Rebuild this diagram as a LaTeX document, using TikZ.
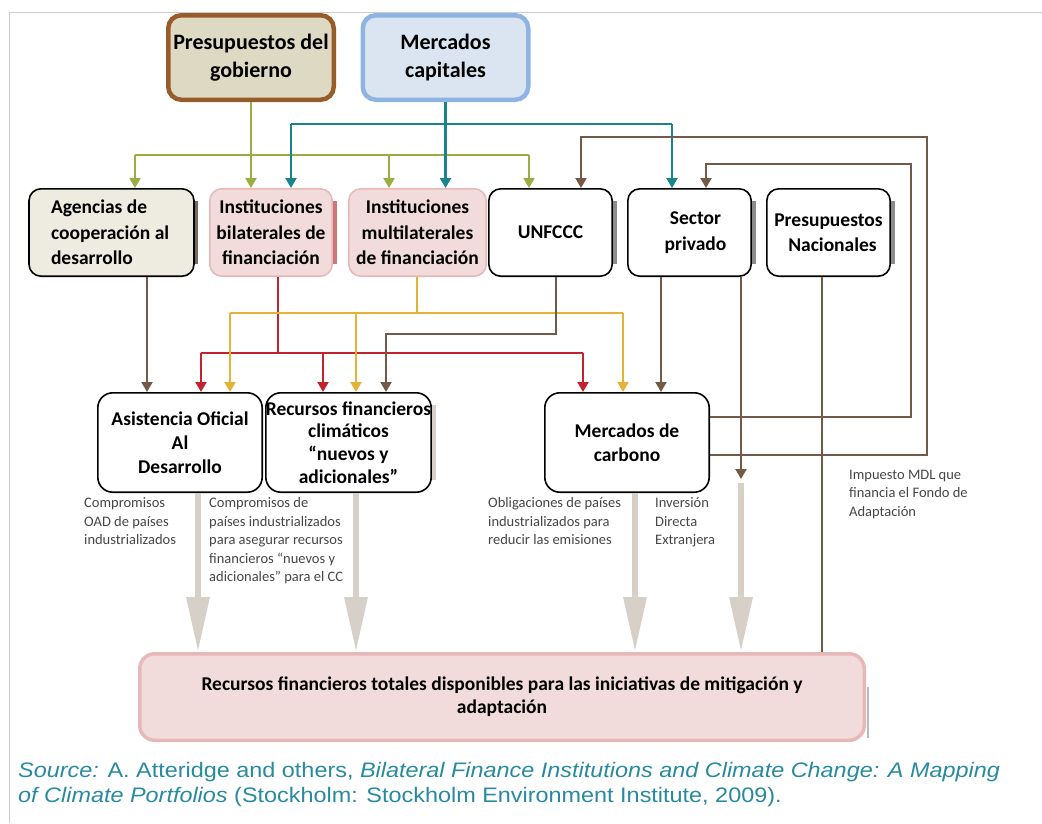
\documentclass[tikz,border=0pt]{standalone}
\usepackage{fontspec}
\setmainfont{Carlito}
\newfontfamily\srcfont[FakeStretch=1.115]{Liberation Sans}
\usetikzlibrary{arrows.meta}
\definecolor{gobfill}{RGB}{221,217,195}
\definecolor{gobdraw}{RGB}{152,92,42}
\definecolor{capfill}{RGB}{219,229,241}
\definecolor{capdraw}{RGB}{141,180,226}
\definecolor{agfill}{RGB}{238,236,225}
\definecolor{pinkfill}{RGB}{242,220,219}
\definecolor{pinkdraw}{RGB}{230,185,184}
\definecolor{cgreen}{RGB}{155,172,66}
\definecolor{cteal}{RGB}{25,132,140}
\definecolor{cbrown}{RGB}{115,90,72}
\definecolor{cred}{RGB}{195,35,45}
\definecolor{cgold}{RGB}{228,178,55}
\definecolor{fatgray}{RGB}{215,208,200}
\definecolor{notegray}{RGB}{70,70,70}
\definecolor{srcteal}{RGB}{40,138,158}
\definecolor{framegray}{RGB}{205,205,205}
\definecolor{shadegray}{RGB}{140,140,140}
\definecolor{shadebrown}{RGB}{120,105,90}
\definecolor{shadered}{RGB}{205,120,120}
\newcommand\rshadow[2]{\fill[#2] ([xshift=-0.3pt,yshift=-13pt]#1.north east) rectangle ([xshift=3.5pt,yshift=13pt]#1.south east);}
\begin{document}
\begin{tikzpicture}[x=1pt,y=-1pt,
  topbox/.style={rounded corners=13pt, line width=4.5pt, inner sep=0pt, align=flush center,
    minimum width=165.5pt, minimum height=84.5pt, font=\bfseries\fontsize{22}{27.5}\selectfont},
  midbox/.style={draw=black, line width=1.6pt, rounded corners=12pt, inner sep=0pt, align=flush center,
    minimum height=87.4pt, font=\bfseries\fontsize{19.5}{25.5}\selectfont},
  pinkbox/.style={midbox, draw=pinkdraw, fill=pinkfill},
  lowbox/.style={draw=black, line width=1.6pt, rounded corners=15pt, inner sep=0pt, align=flush center,
    minimum width=164.4pt, minimum height=99.4pt, font=\bfseries\fontsize{19.5}{24}\selectfont},
  wire/.style={line width=2.2pt},
  arrowend/.style={-{Triangle[width=11pt,length=10pt]}},
  fat/.style={draw=fatgray, line width=6.5pt, -{Triangle[width=22pt,length=55pt]}},
  smalltext/.style={anchor=north west, inner sep=0pt, align=flush left, text=notegray,
    font=\fontsize{14.5}{18.5}\selectfont}]
\useasboundingbox (0,0) rectangle (1042,823);
% frame
\draw[framegray, line width=1pt] (9,823) -- (9,12) -- (1042,12);

% top boxes
\node[topbox, draw=gobdraw, fill=gobfill] (gob) at (251,57.5) {Presupuestos del\\gobierno};
\node[topbox, draw=capdraw, fill=capfill] (cap) at (445.5,57.5) {Mercados\\capitales};

% middle row
\node[midbox, fill=agfill, align=flush left, inner xsep=22pt, text width=121pt] (agencias) at (111.5,232.5)
  {Agencias de\\cooperación al\\desarrollo};
\node[pinkbox, minimum width=122.4pt] (bilat) at (271,232.5) {Instituciones\\bilaterales de\\financiación};
\node[pinkbox, minimum width=137.4pt] (multi) at (417.5,232.5) {Instituciones\\multilaterales\\de financiación};
\node[midbox, fill=white, minimum width=123.4pt] (unfccc) at (550.5,232.5) {UNFCCC};
\node[midbox, fill=white, minimum width=123.4pt] (sector) at (689.5,232.5) {\hspace*{12pt}Sector\\\hspace*{12pt}privado};
\node[midbox, fill=white, minimum width=123.4pt] (presnac) at (828.5,232.5) {Presupuestos\\\hspace*{8pt}Nacionales};
\rshadow{agencias}{shadebrown}
\rshadow{bilat}{shadered}
\rshadow{unfccc}{shadegray}
\rshadow{sector}{shadegray}
\rshadow{presnac}{shadegray}

% lower row
\node[lowbox, fill=white] (asist) at (180,442.5) {Asistencia Oficial\\Al\\Desarrollo};
\node[lowbox, fill=white, minimum width=165.4pt, font=\bfseries\fontsize{19.5}{22.7}\selectfont] (recursos) at (348.5,442.5)
  {Recursos financieros\\climáticos\\“nuevos y\\adicionales”};
\node[lowbox, fill=white] (carbono) at (627,442.5) {Mercados de\\carbono};
\rshadow{recursos}{fatgray}

% bottom box
\node[draw=pinkdraw, fill=pinkfill, line width=3.5pt, rounded corners=15pt, inner sep=0pt, align=flush center,
  minimum width=724.5pt, minimum height=86.5pt, font=\bfseries\fontsize{19.5}{23}\selectfont] (total) at (502,697)
  {Recursos financieros totales disponibles para las iniciativas de mitigación y\\adaptación};
\fill[shadegray!60] ([xshift=0.5pt,yshift=-35pt]total.north east) rectangle ([xshift=3pt,yshift=4pt]total.south east);

% routing coordinates
\coordinate (gL) at (135,155);
\coordinate (gM) at (389,155);
\coordinate (gR) at (529,155);
\coordinate (tL) at (291,124);
\coordinate (tR) at (672,124);
\coordinate (b1) at (927,137);
\coordinate (b1e) at (581,137);
\coordinate (b2) at (911,164);
\coordinate (b2e) at (706,164);
\coordinate (ag) at (147,300);
\coordinate (rB) at (278,353);
\coordinate (rL) at (201,353);
\coordinate (rM) at (323,353);
\coordinate (rR) at (583,353);
\coordinate (yB) at (417,313);
\coordinate (yL) at (230,313);
\coordinate (yM) at (356,313);
\coordinate (yR) at (623,313);
\coordinate (uB) at (556,334);
\coordinate (uL) at (386,334);
\coordinate (s1) at (661,350);
\coordinate (s2) at (741,479);
\coordinate (s2b) at (741,483);
\coordinate (pn) at (822,400);
\coordinate (f1) at (198,550);
\coordinate (f2) at (356,550);
\coordinate (f3) at (635,550);

% green (government budgets)
\draw[wire, cgreen] (gL) -- (gR);
\draw[wire, cgreen, arrowend] (gob.south) -- (bilat.north -| gob.south);
\draw[wire, cgreen, arrowend] (gL) -- (agencias.north -| gL);
\draw[wire, cgreen, arrowend] (gM) -- (multi.north -| gM);
\draw[wire, cgreen, arrowend] (gR) -- (unfccc.north -| gR);

% teal (capital markets)
\draw[wire, cteal] (tL) -- (tR);
\draw[wire, cteal, arrowend] (cap.south) -- (multi.north -| cap.south);
\draw[wire, cteal, arrowend] (tL) -- (bilat.north -| tL);
\draw[wire, cteal, arrowend] (tR) -- (sector.north -| tR);

% brown feedback from carbon markets
\draw[wire, cbrown, arrowend] ([yshift=-12.5pt]carbono.east) -| (b1) -- (b1e) -- (unfccc.north -| b1e);
\draw[wire, cbrown, arrowend] ([yshift=25.5pt]carbono.east) -| (b2) -- (b2e) -- (sector.north -| b2e);

% middle -> lower
\draw[wire, cbrown, arrowend] (agencias.south -| ag) -- (asist.north -| ag);
\draw[wire, cred] (bilat.south -| rB) -- (rB);
\draw[wire, cred] (rL) -- (rR);
\draw[wire, cred, arrowend] (rL) -- (asist.north -| rL);
\draw[wire, cred, arrowend] (rM) -- (recursos.north -| rM);
\draw[wire, cred, arrowend] (rR) -- (carbono.north -| rR);
\draw[wire, cgold] (multi.south -| yB) -- (yB);
\draw[wire, cgold] (yL) -- (yR);
\draw[wire, cgold, arrowend] (yL) -- (asist.north -| yL);
\draw[wire, cgold, arrowend] (yM) -- (recursos.north -| yM);
\draw[wire, cgold, arrowend] (yR) -- (carbono.north -| yR);
\draw[wire, cbrown, arrowend] (unfccc.south -| uB) -- (uB) -- (uL) -- (recursos.north -| uL);
\draw[wire, cbrown, arrowend] (sector.south -| s1) -- (carbono.north -| s1);
\draw[wire, cbrown, arrowend] (sector.south -| s2) -- (s2);
\draw[wire, cbrown] (presnac.south -| pn) -- (total.north -| pn);

% thick arrows into total
\draw[fat] (asist.south -| f1) -- (total.north -| f1);
\draw[fat] (recursos.south -| f2) -- (total.north -| f2);
\draw[fat] (carbono.south -| f3) -- (total.north -| f3);
\draw[fat] (s2b) -- (total.north -| s2b);

% notes
\node[smalltext] (n1) at (84,497.5) {Compromisos\\OAD de países\\industrializados};
\node[smalltext] (n2) at (209,497.5) {Compromisos de\\países industrializados\\para asegurar recursos\\financieros “nuevos y\\adicionales” para el CC};
\node[smalltext] (n3) at (488,497.5) {Obligaciones de países\\industrializados para\\reducir las emisiones};
\node[smalltext] (n4) at (655,497.5) {Inversión\\Directa\\Extranjera};
\node[smalltext] (n5) at (849,469.5) {Impuesto MDL que\\financia el Fondo de\\Adaptación};

% source
\node[anchor=north west, inner sep=0pt, align=flush left, text=srcteal, font=\srcfont\fontsize{21}{25}\selectfont] (src) at (18,762.5)
  {\textit{Source:} A. Atteridge and others, \textit{Bilateral Finance Institutions and Climate Change: A Mapping}\\
   \textit{of Climate Portfolios} (Stockholm: Stockholm Environment Institute, 2009).};
\end{tikzpicture}
\end{document}
